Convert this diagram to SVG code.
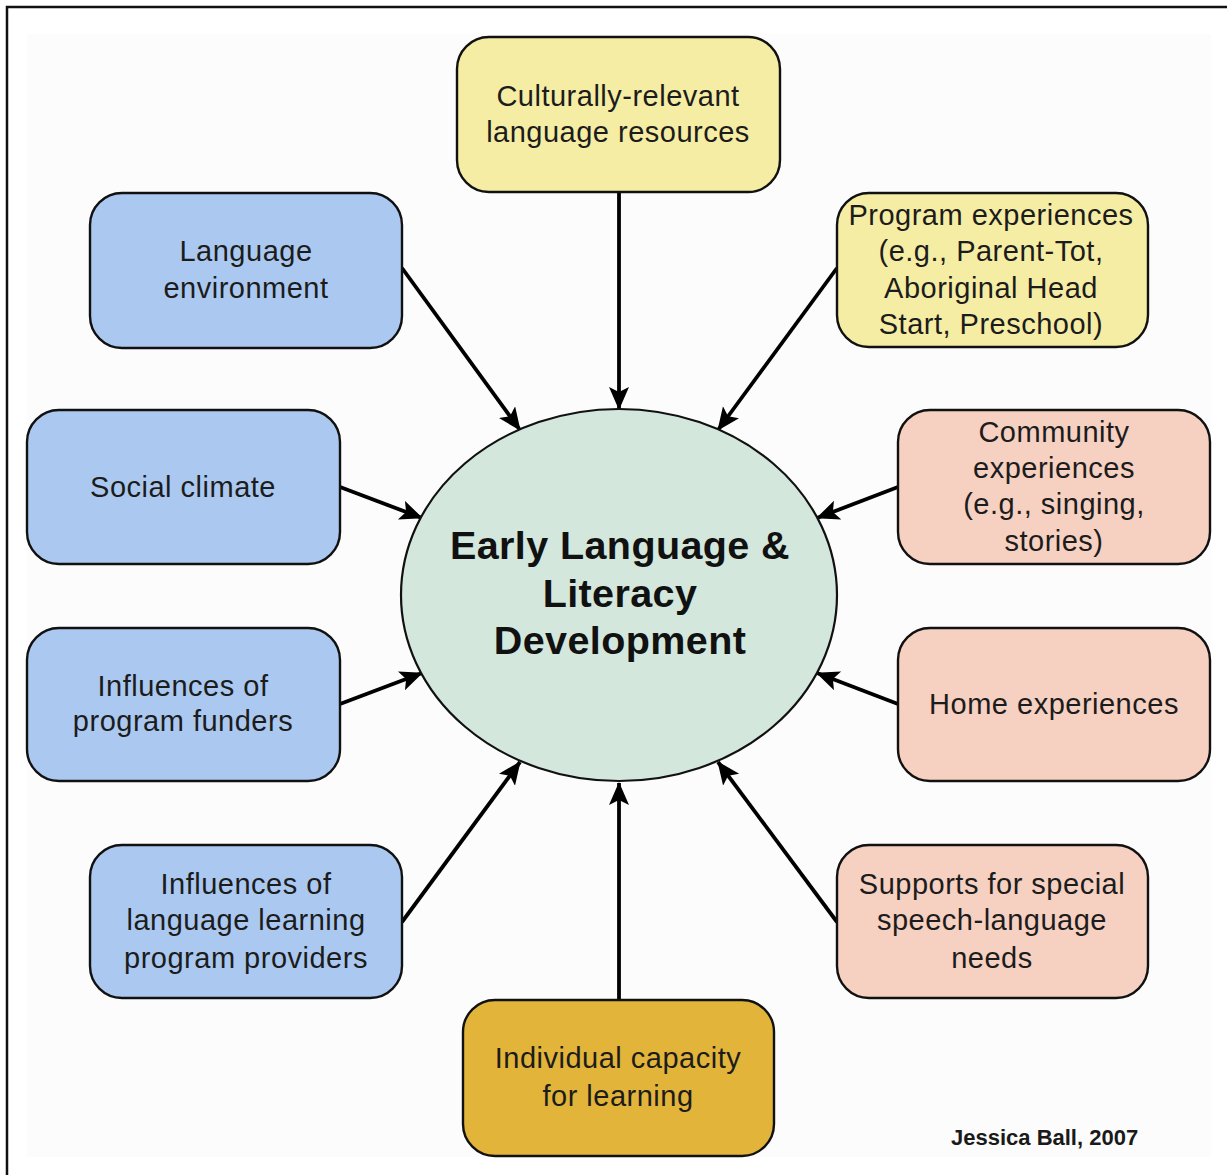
<svg xmlns="http://www.w3.org/2000/svg" width="1227" height="1175" viewBox="0 0 1227 1175">
  <defs>
    <style>
      .box { stroke: #111; stroke-width: 2.4; }
      .blue { fill: #abc9f0; }
      .yellow { fill: #f6eda4; }
      .salmon { fill: #f6d0c1; }
      .gold { fill: #e2b43a; }
      .lbl { font-family: "Liberation Sans", Arial, Helvetica, sans-serif; font-size: 29px; fill: #1c1c1c; text-anchor: middle; letter-spacing: 0.5px; }
      .title { font-family: "Liberation Sans", Arial, Helvetica, sans-serif; font-size: 39.5px; font-weight: bold; fill: #111; text-anchor: middle; letter-spacing: 0.4px; }
      .credit { font-family: "Liberation Sans", Arial, Helvetica, sans-serif; font-size: 22px; font-weight: bold; fill: #1a1a1a; }
      .conn { stroke: #000; stroke-width: 3.8; fill: none; marker-end: url(#arrow); }
    </style>
    <marker id="arrow" markerUnits="userSpaceOnUse" markerWidth="26" markerHeight="22" refX="22" refY="10" orient="auto">
      <path d="M0,0 L23,10 L0,20 L5,10 z" fill="#000"/>
    </marker>
  </defs>

  <!-- page frame and panel -->
  <rect x="0" y="0" width="1227" height="1175" fill="#ffffff"/>
  <path d="M7,1175 V7 H1227" fill="none" stroke="#111" stroke-width="2.5"/>
  <rect x="27" y="34" width="1184" height="1123" fill="#fcfcfc"/>

  <!-- connectors -->
  <g id="connectors">
    <line class="conn" x1="619" y1="193" x2="619" y2="409"/>
    <line class="conn" x1="402" y1="268" x2="520" y2="430"/>
    <line class="conn" x1="837" y1="268" x2="718" y2="430"/>
    <line class="conn" x1="340" y1="487" x2="422" y2="518"/>
    <line class="conn" x1="898" y1="487" x2="817" y2="518"/>
    <line class="conn" x1="340" y1="704" x2="422" y2="673"/>
    <line class="conn" x1="898" y1="704" x2="817" y2="673"/>
    <line class="conn" x1="402" y1="922" x2="520" y2="762"/>
    <line class="conn" x1="837" y1="922" x2="718" y2="762"/>
    <line class="conn" x1="619" y1="1000" x2="619" y2="783"/>
  </g>

  <!-- central node -->
  <g id="center">
    <ellipse cx="619" cy="595" rx="218" ry="186" fill="#d3e7dd" stroke="#111" stroke-width="2.2"/>
    <text class="title" x="620" y="559">Early Language &amp;</text>
    <text class="title" x="620" y="607">Literacy</text>
    <text class="title" x="620" y="654">Development</text>
  </g>

  <g id="cultural-resources">
    <rect class="box yellow" x="457" y="37" width="323" height="155" rx="32"/>
    <text class="lbl" x="618" y="106">Culturally-relevant</text>
    <text class="lbl" x="618" y="142">language resources</text>
  </g>

  <g id="program-experiences">
    <rect class="box yellow" x="837" y="193" width="311" height="154" rx="32"/>
    <text class="lbl" x="991" y="225">Program experiences</text>
    <text class="lbl" x="991" y="261">(e.g., Parent-Tot,</text>
    <text class="lbl" x="991" y="298">Aboriginal Head</text>
    <text class="lbl" x="991" y="334">Start, Preschool)</text>
  </g>

  <g id="language-environment">
    <rect class="box blue" x="90" y="193" width="312" height="155" rx="32"/>
    <text class="lbl" x="246" y="261">Language</text>
    <text class="lbl" x="246" y="298">environment</text>
  </g>

  <g id="social-climate">
    <rect class="box blue" x="27" y="410" width="313" height="154" rx="32"/>
    <text class="lbl" x="183" y="497">Social climate</text>
  </g>

  <g id="community-experiences">
    <rect class="box salmon" x="898" y="410" width="312" height="154" rx="32"/>
    <text class="lbl" x="1054" y="442">Community</text>
    <text class="lbl" x="1054" y="478">experiences</text>
    <text class="lbl" x="1054" y="514">(e.g., singing,</text>
    <text class="lbl" x="1054" y="551">stories)</text>
  </g>

  <g id="program-funders">
    <rect class="box blue" x="27" y="628" width="313" height="153" rx="32"/>
    <text class="lbl" x="183" y="696">Influences of</text>
    <text class="lbl" x="183" y="731">program funders</text>
  </g>

  <g id="home-experiences">
    <rect class="box salmon" x="898" y="628" width="312" height="153" rx="32"/>
    <text class="lbl" x="1054" y="714">Home experiences</text>
  </g>

  <g id="program-providers">
    <rect class="box blue" x="90" y="845" width="312" height="153" rx="32"/>
    <text class="lbl" x="246" y="894">Influences of</text>
    <text class="lbl" x="246" y="930">language learning</text>
    <text class="lbl" x="246" y="968">program providers</text>
  </g>

  <g id="special-needs">
    <rect class="box salmon" x="837" y="845" width="311" height="153" rx="32"/>
    <text class="lbl" x="992" y="894">Supports for special</text>
    <text class="lbl" x="992" y="930">speech-language</text>
    <text class="lbl" x="992" y="968">needs</text>
  </g>

  <g id="individual-capacity">
    <rect class="box gold" x="463" y="1000" width="311" height="156" rx="32"/>
    <text class="lbl" x="618" y="1068">Individual capacity</text>
    <text class="lbl" x="618" y="1106">for learning</text>
  </g>

  <text class="credit" x="951" y="1145">Jessica Ball, 2007</text>
</svg>
